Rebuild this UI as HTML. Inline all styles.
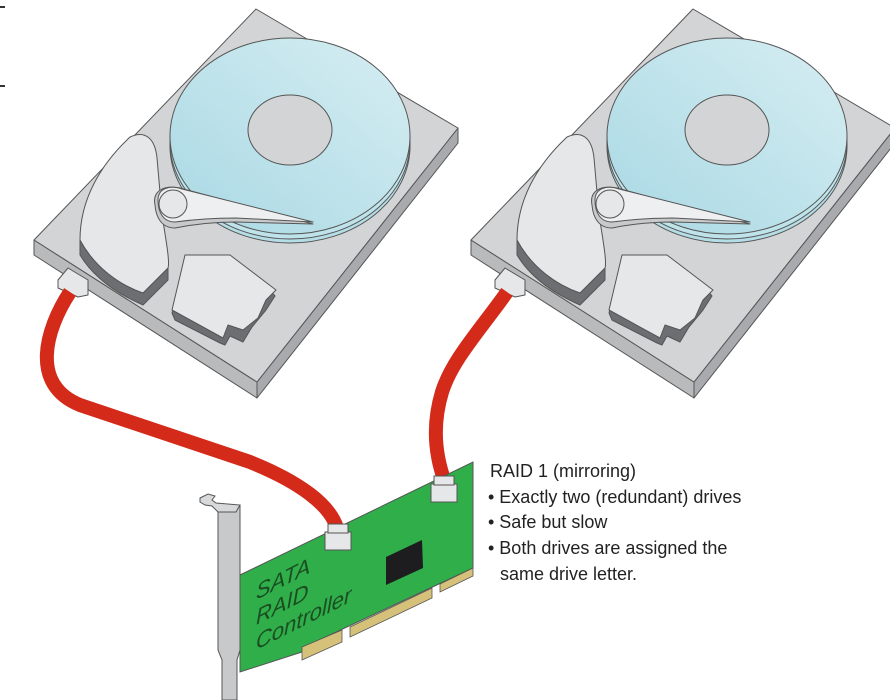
<!DOCTYPE html>
<html><head><meta charset="utf-8"><style>
html,body{margin:0;padding:0;background:#fff;width:890px;height:700px;overflow:hidden}
svg{display:block}
.t{font-family:"Liberation Sans",sans-serif;font-size:18px;fill:#222}
</style></head><body>
<svg width="890" height="700" viewBox="0 0 890 700" xmlns="http://www.w3.org/2000/svg">
<defs>
<linearGradient id="pl" x1="0" y1="1" x2="1" y2="0">
<stop offset="0" stop-color="#a9d8e4"/><stop offset="1" stop-color="#d6eef2"/>
</linearGradient>
<g id="drive" stroke="#555" stroke-width="1" stroke-linejoin="round">
  <polygon points="34,240 257,382 257,398 34,255" fill="#b9babc"/>
  <polygon points="257,382 458,128 458,143 257,398" fill="#a9aaad"/>
  <polygon points="256,9 458,128 257,382 34,240" fill="#d3d4d6"/>
  <ellipse cx="290" cy="146" rx="120" ry="97" fill="#b5dde6"/>
  <ellipse cx="290" cy="142" rx="120" ry="97" fill="#bfe3ea"/>
  <ellipse cx="290" cy="136" rx="120" ry="98" fill="url(#pl)"/>
  <ellipse cx="290" cy="130" rx="42" ry="35" fill="#d3d4d6"/>
  <path d="M80,240 L80,255 C95,280 120,295 143,305 L168,280 L168,268 L143,293 C120,285 95,268 80,240 Z" fill="#6d6e71"/>
  <path d="M80,240 C80,200 100,165 130,137 C145,130 155,138 157,158 L162,215 C166,240 170,262 168,268 L143,293 C120,285 95,268 80,240 Z" fill="#e6e7e8"/>
  <path d="M155,205 C152,190 165,185 180,188 L313,224 L236,222 C210,222 190,225 175,228 C162,228 156,218 155,205 Z" fill="#c8c9cb"/>
  <path d="M158,200 C158,188 170,185 182,189 L313,222 L236,218 C210,218 190,220 175,222 C163,222 158,212 158,200 Z" fill="#eeeff0"/>
  <circle cx="173" cy="204" r="14" fill="#e6e7e8"/>
  <polygon points="172,313 175,320 220,343 225,345 230,336 243,342 252,327 266,310 275,296 270,290 232,262 188,256" fill="#6d6e71"/>
  <polygon points="172,310 185,255 230,255 276,290 266,300 258,318 243,330 228,325 223,338" fill="#e6e7e8"/>
  <polygon points="58,280 68,268 88,280 88,295 78,297 58,288" fill="#e6e7e8"/>
</g>
</defs>
<line x1="0" y1="7" x2="5" y2="7" stroke="#333" stroke-width="2"/>
<line x1="0" y1="86" x2="5" y2="86" stroke="#333" stroke-width="2"/>
<use href="#drive"/>
<use href="#drive" transform="translate(437,0)"/>
<g fill="none" stroke="#d42a1a" stroke-width="14" stroke-linecap="butt">
<path d="M70,292 C45,330 30,385 80,405 L250,462 C300,482 330,505 337,528"/>
<path d="M507,292 C480,330 452,360 442,392 C432,425 435,455 445,482"/>
</g>
<!-- bracket -->
<path d="M218,505 L240,505 L240,650 L237,660 L237,700 L222,700 L222,660 L218,650 Z" fill="#c8c9cb" stroke="#555"/>
<path d="M200,498 L208,494 L215,496 L212,500 L216,503 L240,505 L236,512 L218,512 L212,506 L205,505 L200,502 Z" fill="#d8d9da" stroke="#555"/>
<!-- card -->
<polygon points="240,575 473,462 473,568 302,648 302,652 240,672" fill="#2fae4a" stroke="#555"/>
<polygon points="302,647 342,630 342,642 302,660" fill="#d6c17b" stroke="#555" stroke-width=".8"/>
<polygon points="350,627 432,588 432,598 350,637" fill="#d6c17b" stroke="#555" stroke-width=".8"/>
<polygon points="440,584 473,568 473,576 440,592" fill="#d6c17b" stroke="#555" stroke-width=".8"/>
<polygon points="386,557 422,540 423,568 386,585" fill="#1d1d1f"/>
<g fill="#e6e7e8" stroke="#555">
<rect x="325" y="532" width="26" height="18"/><rect x="328" y="524" width="20" height="9"/>
<rect x="431" y="484" width="26" height="18"/><rect x="434" y="476" width="20" height="9"/>
</g>
<g transform="translate(256,600) skewY(-27)" font-family="Liberation Sans,sans-serif" font-size="22" font-style="italic" fill="#1b4d22">
<text x="0" y="0">SATA</text><text x="0" y="25">RAID</text><text x="0" y="50">Controller</text>
</g>
<text class="t" x="490" y="477">RAID 1 (mirroring)</text>
<text class="t" x="488" y="503">• Exactly two (redundant) drives</text>
<text class="t" x="488" y="528">• Safe but slow</text>
<text class="t" x="488" y="554">• Both drives are assigned the</text>
<text class="t" x="500" y="580">same drive letter.</text>
</svg>
</body></html>
